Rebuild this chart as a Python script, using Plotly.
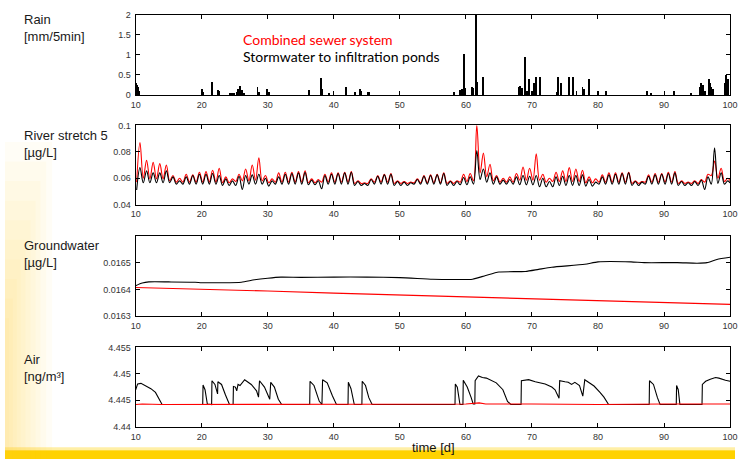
import plotly.graph_objects as go

W, H = 743, 464

# ---------------- data ----------------
rain_day = [10.05, 10.15, 10.25, 10.35, 10.5, 20.0, 20.15, 21.5, 22.4, 22.5,
            24.3, 24.6, 24.9, 25.3, 25.5, 25.8, 26.0, 26.3, 28.4, 28.6,
            29.9, 30.1, 36.2, 38.0, 38.1, 39.2, 41.8, 43.2, 43.9, 44.1,
            45.1, 45.3, 58.2, 59.1, 59.3, 59.6, 59.8, 60.9, 61.1, 61.45,
            61.6, 62.6, 68.0, 68.2, 68.4, 68.9, 69.2, 69.5, 69.9, 70.3,
            70.5, 71.2, 73.7, 73.9, 74.4, 75.5, 76.2, 76.7, 77.6, 77.8,
            78.6, 80.0, 81.1, 87.4, 88.0, 91.5, 94.0, 95.4, 95.6, 95.9,
            96.1, 96.7, 96.9, 97.1, 97.4, 99.1, 99.4, 99.6]
rain_mm = [0.30, 0.25, 0.20, 0.15, 0.10, 0.15, 0.08, 0.32, 0.12, 0.10,
           0.05, 0.05, 0.06, 0.08, 0.15, 0.22, 0.12, 0.06, 0.20, 0.08,
           0.15, 0.08, 0.12, 0.42, 0.15, 0.05, 0.20, 0.08, 0.15, 0.10,
           0.07, 0.07, 0.08, 0.12, 0.15, 1.04, 0.18, 0.20, 0.18, 2.00,
           0.32, 0.45, 0.20, 0.22, 0.18, 0.96, 0.10, 0.40, 0.10, 0.30,
           0.45, 0.45, 0.08, 0.45, 0.30, 0.45, 0.45, 0.10, 0.20, 0.15,
           0.40, 0.10, 0.10, 0.10, 0.05, 0.10, 0.05, 0.20, 0.30, 0.25,
           0.10, 0.40, 0.30, 0.20, 0.15, 0.30, 0.50, 0.40]

# River stretch 5: daily trough / peak values, days 10..99
river_days = list(range(10, 100))
river_red_trough = [
    0.057, 0.060, 0.0595, 0.0595, 0.0595, 0.058, 0.057, 0.057, 0.057, 0.057,
    0.057, 0.057, 0.057, 0.0565, 0.0565, 0.0575, 0.058, 0.058, 0.0585, 0.058,
    0.0565, 0.057, 0.057, 0.057, 0.057, 0.057, 0.0565, 0.0565, 0.057, 0.057,
    0.057, 0.057, 0.057, 0.056, 0.056, 0.056, 0.057, 0.057, 0.057, 0.056,
    0.056, 0.056, 0.0565, 0.0565, 0.0565, 0.0565, 0.0565, 0.056, 0.056, 0.057,
    0.0575, 0.058, 0.064, 0.061, 0.058, 0.057, 0.057, 0.057, 0.0585, 0.0585,
    0.0585, 0.0585, 0.057, 0.0575, 0.0575, 0.0575, 0.0575, 0.0575, 0.0565, 0.0565,
    0.057, 0.057, 0.057, 0.057, 0.057, 0.056, 0.056, 0.057, 0.057, 0.057,
    0.057, 0.057, 0.056, 0.056, 0.056, 0.056, 0.057, 0.062, 0.060, 0.0575]
river_red_peak = [
    0.087, 0.0735, 0.072, 0.071, 0.070, 0.062, 0.060, 0.063, 0.0625, 0.0645,
    0.065, 0.066, 0.0675, 0.061, 0.0595, 0.063, 0.067, 0.070, 0.0755, 0.062,
    0.0595, 0.064, 0.0645, 0.0645, 0.065, 0.0655, 0.0595, 0.059, 0.063, 0.064,
    0.064, 0.0645, 0.065, 0.058, 0.0565, 0.0595, 0.062, 0.063, 0.0635, 0.058,
    0.0575, 0.057, 0.0595, 0.062, 0.0625, 0.063, 0.064, 0.058, 0.058, 0.063,
    0.0635, 0.100, 0.079, 0.0705, 0.062, 0.060, 0.061, 0.0635, 0.0685, 0.0675,
    0.0785, 0.063, 0.060, 0.0645, 0.0655, 0.068, 0.067, 0.066, 0.061, 0.0595,
    0.0625, 0.064, 0.064, 0.064, 0.0645, 0.058, 0.0575, 0.0625, 0.0635, 0.0635,
    0.0645, 0.065, 0.058, 0.057, 0.058, 0.059, 0.063, 0.073, 0.0675, 0.060]
river_black_trough = [
    0.051, 0.0565, 0.0565, 0.0565, 0.0565, 0.0565, 0.0555, 0.0555, 0.0555, 0.0555,
    0.0555, 0.0555, 0.0555, 0.0545, 0.0545, 0.0545, 0.0515, 0.0555, 0.0555, 0.0555,
    0.054, 0.0555, 0.0555, 0.0555, 0.0555, 0.0555, 0.055, 0.055, 0.052, 0.0555,
    0.0555, 0.0555, 0.0555, 0.0545, 0.0545, 0.0545, 0.0555, 0.0555, 0.0555, 0.0545,
    0.0545, 0.0545, 0.0555, 0.0555, 0.0555, 0.0555, 0.0555, 0.0545, 0.0545, 0.055,
    0.055, 0.0555, 0.059, 0.057, 0.0555, 0.0555, 0.0555, 0.0555, 0.055, 0.055,
    0.055, 0.0535, 0.0535, 0.0535, 0.0545, 0.0545, 0.0545, 0.0545, 0.054, 0.054,
    0.0555, 0.0555, 0.0555, 0.0555, 0.0555, 0.0545, 0.0545, 0.0555, 0.0555, 0.0555,
    0.0555, 0.0555, 0.0545, 0.0545, 0.0545, 0.0545, 0.0515, 0.0555, 0.056, 0.0555]
river_black_peak = [
    0.068, 0.0655, 0.064, 0.064, 0.0655, 0.061, 0.058, 0.061, 0.062, 0.063,
    0.063, 0.0635, 0.062, 0.0595, 0.058, 0.0615, 0.062, 0.0625, 0.063, 0.060,
    0.058, 0.061, 0.063, 0.0635, 0.064, 0.0645, 0.0585, 0.058, 0.062, 0.063,
    0.0635, 0.064, 0.0645, 0.0575, 0.056, 0.059, 0.0615, 0.0625, 0.063, 0.0575,
    0.057, 0.0565, 0.059, 0.0615, 0.062, 0.0625, 0.0635, 0.0575, 0.0575, 0.0605,
    0.061, 0.081, 0.067, 0.064, 0.061, 0.0585, 0.059, 0.061, 0.062, 0.0615,
    0.062, 0.060, 0.0575, 0.061, 0.0615, 0.062, 0.062, 0.0625, 0.059, 0.057,
    0.061, 0.0625, 0.063, 0.0635, 0.064, 0.0575, 0.057, 0.0615, 0.0625, 0.063,
    0.0635, 0.064, 0.0575, 0.0565, 0.0575, 0.0585, 0.061, 0.083, 0.064, 0.058]
river_end_red = 0.058
river_end_black = 0.0565

# Groundwater
gw_t_black = [10, 11, 12, 15, 19, 20, 23, 26, 28, 30, 32, 35, 40, 45, 50, 55, 58,
              61, 63, 65, 69, 71, 73, 78, 80, 85, 87, 92, 95, 96.5, 98, 100]
gw_black = [0.016414, 0.016424, 0.016428, 0.016428, 0.016427, 0.016425, 0.016425,
            0.016427, 0.016436, 0.016442, 0.016446, 0.016445, 0.016446, 0.016446,
            0.016444, 0.016438, 0.016437, 0.016438, 0.016452, 0.016465, 0.016467,
            0.016475, 0.016483, 0.016494, 0.016503, 0.016503, 0.016500, 0.016500,
            0.016498, 0.016500, 0.016512, 0.016520]
gw_t_red = [10, 20, 30, 40, 50, 60, 70, 80, 90, 100]
gw_red = [0.016407, 0.016401, 0.016394, 0.016386, 0.016379, 0.016373, 0.016365,
          0.016358, 0.016352, 0.016344]

# Air
air_t_black = [10.0, 10.3, 10.8, 11.5, 12.3, 13.0, 13.6, 14.0, 20.15, 20.2, 20.5, 20.85,
               21.5, 21.55, 22.0, 22.4, 22.45, 23.0, 23.6, 24.2, 24.75, 24.8, 25.1, 25.3,
               25.5, 25.8, 26.5, 27.5, 28.3, 28.6, 28.75, 29.5, 30.3, 30.45, 31.0, 31.6,
               32.1, 36.35, 36.4, 37.0, 37.8, 38.2, 38.3, 39.0, 39.8, 40.4, 42.15, 42.2,
               42.6, 43.1, 44.25, 44.3, 44.8, 45.3, 45.8, 58.35, 58.4, 58.7, 59.1, 59.55,
               59.6, 60.2, 60.8, 61.1, 61.35, 61.4, 61.9, 62.5, 63.1, 64.0, 64.6, 65.6,
               66.3, 66.8, 68.35, 68.4, 69.5, 70.5, 71.3, 72.0, 73.0, 73.5, 74.1, 74.2,
               75.0, 75.5, 76.0, 76.5, 77.2, 77.7, 78.0, 78.8, 79.4, 80.3, 80.9, 81.6,
               87.75, 87.8, 88.4, 89.0, 89.4, 91.85, 91.9, 92.15, 92.4, 95.75, 95.8, 96.3,
               97.0, 97.8, 98.3, 99.3, 100.0]
air_black = [4.4470, 4.4481, 4.4482, 4.4477, 4.4472, 4.4465, 4.4451, 4.4442, 4.4442, 4.4479,
             4.4470, 4.4443, 4.4442, 4.4487, 4.4480, 4.4462, 4.4485, 4.4480, 4.4460, 4.4442,
             4.4442, 4.4476, 4.4475, 4.4468, 4.4480, 4.4478, 4.4489, 4.4480, 4.4468, 4.4456,
             4.4487, 4.4475, 4.4452, 4.4484, 4.4475, 4.4452, 4.4442, 4.4442, 4.4486, 4.4478,
             4.4448, 4.4442, 4.4489, 4.4483, 4.4458, 4.4442, 4.4442, 4.4484, 4.4472, 4.4442,
             4.4442, 4.4486, 4.4478, 4.4455, 4.4442, 4.4442, 4.4481, 4.4475, 4.4442, 4.4442,
             4.4488, 4.4475, 4.4455, 4.4443, 4.4443, 4.4487, 4.4496, 4.4493, 4.4492, 4.4486,
             4.4483, 4.4470, 4.4448, 4.4442, 4.4442, 4.4487, 4.4489, 4.4485, 4.4483, 4.4481,
             4.4475, 4.4470, 4.4454, 4.4487, 4.4485, 4.4484, 4.4480, 4.4484, 4.4478, 4.4458,
             4.4489, 4.4483, 4.4477, 4.4465, 4.4456, 4.4442, 4.4442, 4.4487, 4.4480, 4.4455,
             4.4442, 4.4442, 4.4478, 4.4470, 4.4442, 4.4442, 4.4480, 4.4486, 4.4490, 4.4493,
             4.4492, 4.4488, 4.4486]
air_t_red = [10, 11, 14, 20, 30, 40, 50, 60, 62, 63, 70, 80, 90, 100]
air_red = [4.4442, 4.4443, 4.4442, 4.4442, 4.4443, 4.4442, 4.4442, 4.4443, 4.4445, 4.4443,
           4.4443, 4.4442, 4.4443, 4.4443]

x_ticks = [10, 20, 30, 40, 50, 60, 70, 80, 90, 100]
rain_ticks = [0, 0.5, 1, 1.5, 2]
rain_ticktext = ["0", "0.5", "1", "1.5", "2"]
river_ticks = [0.04, 0.06, 0.08, 0.1]
river_ticktext = ["0.04", "0.06", "0.08", "0.1"]
gw_ticks = [0.0163, 0.0164, 0.0165]
gw_ticktext = ["0.0163", "0.0164", "0.0165"]
air_ticks = [4.44, 4.445, 4.45, 4.455]
air_ticktext = ["4.44", "4.445", "4.45", "4.455"]

panel_labels = ["Rain<br>[mm/5min]", "River stretch 5<br>[µg/L]",
                "Groundwater<br>[µg/L]", "Air<br>[ng/m³]"]
legend_labels = ["Combined sewer system", "Stormwater to infiltration ponds"]
legend_colors = ["#ff0000", "#000000"]
xlabel = "time [d]"

# ---------------- build river sequences ----------------
def river_series(troughs, peaks, end_val):
    xs, ys = [], []
    for d, tr, pk in zip(river_days, troughs, peaks):
        xs += [d + 0.15, d + 0.65]
        ys += [tr, pk]
    xs.append(100)
    ys.append(end_val)
    return xs, ys

rx_red, ry_red = river_series(river_red_trough, river_red_peak, river_end_red)
rx_blk, ry_blk = river_series(river_black_trough, river_black_peak, river_end_black)

# ---------------- figure ----------------
RED = "#ff0000"
BLK = "#000000"
fig = go.Figure()

fig.add_trace(go.Bar(x=rain_day, y=rain_mm, width=0.14,
                     marker=dict(color=BLK, line=dict(width=0)),
                     xaxis="x", yaxis="y", showlegend=False))

fig.add_trace(go.Scatter(x=rx_red, y=ry_red, mode="lines", line=dict(color=RED, width=1.1, shape="spline"),
                         xaxis="x2", yaxis="y2", showlegend=False))
fig.add_trace(go.Scatter(x=rx_blk, y=ry_blk, mode="lines", line=dict(color=BLK, width=1.1, shape="spline"),
                         xaxis="x2", yaxis="y2", showlegend=False))

fig.add_trace(go.Scatter(x=gw_t_red, y=gw_red, mode="lines", line=dict(color=RED, width=1.1),
                         xaxis="x3", yaxis="y3", showlegend=False))
fig.add_trace(go.Scatter(x=gw_t_black, y=gw_black, mode="lines", line=dict(color=BLK, width=1.1, shape="spline", smoothing=0.6),
                         xaxis="x3", yaxis="y3", showlegend=False))

fig.add_trace(go.Scatter(x=air_t_black, y=air_black, mode="lines", line=dict(color=BLK, width=1.1),
                         xaxis="x4", yaxis="y4", showlegend=False))
fig.add_trace(go.Scatter(x=air_t_red, y=air_red, mode="lines", line=dict(color=RED, width=1.2),
                         xaxis="x4", yaxis="y4", showlegend=False))

x_dom = [133 / W, 738 / W]
panels_px = [(10, 92), (123, 204), (236, 318), (350, 431)]
y_ranges = [[0, 2], [0.04, 0.1], [0.0163, 0.0166], [4.44, 4.455]]
y_tick_sets = [(rain_ticks, rain_ticktext), (river_ticks, river_ticktext),
               (gw_ticks, gw_ticktext), (air_ticks, air_ticktext)]

tick_font = dict(family="Liberation Sans, Arial, sans-serif", size=9, color="#333333")
layout = dict(autosize=True, margin=dict(l=0, r=0, t=0, b=0),
              paper_bgcolor="white", plot_bgcolor="white", showlegend=False, bargap=0)

for i, ((top, bot), yr, (tv, tt)) in enumerate(zip(panels_px, y_ranges, y_tick_sets)):
    n = "" if i == 0 else str(i + 1)
    layout["xaxis" + n] = dict(domain=x_dom, range=[10, 100], anchor="y" + n,
                               tickvals=x_ticks, ticks="inside", ticklen=4, tickcolor="black",
                               showline=True, linecolor="black", linewidth=1, mirror="ticks",
                               showgrid=False, zeroline=False, tickfont=tick_font, ticklabelstandoff=1,
                               ticklabeloverflow="allow")
    layout["yaxis" + n] = dict(domain=[1 - bot / H, 1 - top / H], range=yr, anchor="x" + n,
                               tickvals=tv, ticktext=tt, ticks="inside", ticklen=4, tickcolor="black",
                               showline=True, linecolor="black", linewidth=1, mirror="ticks",
                               showgrid=False, zeroline=False, tickfont=tick_font, ticklabelstandoff=2,
                               ticklabeloverflow="allow")

label_centers = [24, 142, 254, 371]
annotations = []
for lab, cy in zip(panel_labels, label_centers):
    annotations.append(dict(text=lab, xref="paper", yref="paper", x=17 / W, y=1 - cy / H,
                            xanchor="left", yanchor="middle", align="left", showarrow=False,
                            font=dict(family="Liberation Sans, Arial, sans-serif", size=13, color="#1a1a1a")))
for lab, col, cy in zip(legend_labels, legend_colors, [35, 53]):
    annotations.append(dict(text=lab, xref="paper", yref="paper", x=240 / W, y=1 - cy / H,
                            xanchor="left", yanchor="middle", showarrow=False,
                            font=dict(family="Lato, Open Sans, sans-serif", size=14, color=col)))
annotations.append(dict(text=xlabel, xref="paper", yref="paper", x=436 / W, y=1 - 452 / H,
                        xanchor="center", yanchor="middle", showarrow=False,
                        font=dict(family="Liberation Sans, Arial, sans-serif", size=13, color="#111111")))
layout["annotations"] = annotations

# decorative slide background: yellow bottom band and soft left glow
shapes = []
shapes.append(dict(type="rect", xref="paper", yref="paper", x0=0, x1=1, y0=0, y1=9 / H,
                   fillcolor="#FFD200", line=dict(width=0), layer="below"))
shapes.append(dict(type="rect", xref="paper", yref="paper", x0=0, x1=1, y0=9 / H, y1=12 / H,
                   fillcolor="rgba(255,210,0,0.35)", line=dict(width=0), layer="below"))
glow_w = [48, 42, 36, 31, 26, 21, 16, 12, 8, 4]
glow_top = [140, 160, 180, 200, 220, 240, 260, 280, 300, 320]
for w, top in zip(glow_w, glow_top):
    shapes.append(dict(type="rect", xref="paper", yref="paper", x0=0, x1=w / W, y0=0, y1=1 - top / H,
                       fillcolor="rgba(255,215,50,0.045)", line=dict(width=0), layer="below"))
layout["shapes"] = shapes

fig.update_layout(**layout)
# pin the graph div to the top-left corner of the window so the page never overflows
fig.write_html("out.html", config={"displayModeBar": False, "responsive": False},
               default_width=f"{W}px",
               default_height=f"{H}px; position:fixed; top:0px; left:0px; margin:0px")
